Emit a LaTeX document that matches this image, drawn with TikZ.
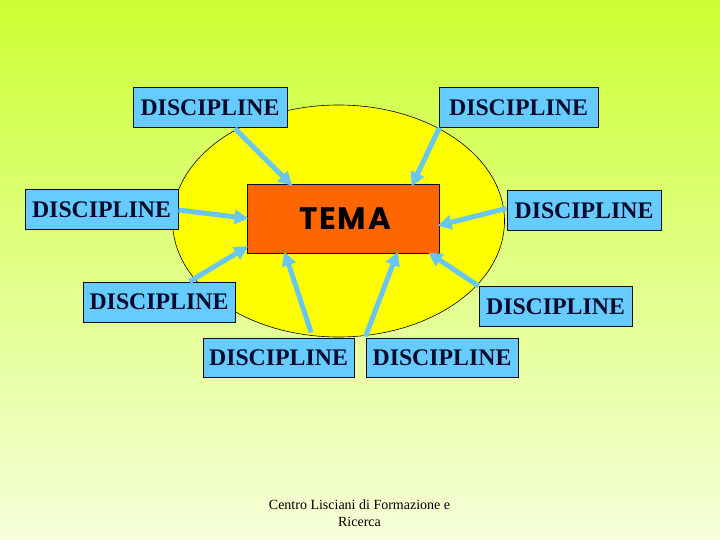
\documentclass[tikz,border=0pt]{standalone}
\usepackage{fontspec}
\setmainfont{Liberation Serif}
\newfontfamily\temafont[LetterSpace=6]{Poppins}
\usetikzlibrary{arrows.meta,calc}
\definecolor{bgtop}{RGB}{204,255,51}
\definecolor{bgbot}{RGB}{246,255,218}
\definecolor{boxblue}{RGB}{102,204,255}
\definecolor{arrblue}{RGB}{105,198,240}
\definecolor{txtnavy}{RGB}{10,10,45}
\definecolor{temaorange}{RGB}{255,102,0}
\definecolor{sunyellow}{RGB}{255,255,0}
\tikzset{
  discbox/.style={draw=txtnavy, line width=1pt, fill=boxblue, inner sep=0pt,
    minimum width=#1, minimum height=40pt, text=txtnavy,
    font=\fontsize{23.8}{26}\selectfont\bfseries},
  discbox/.default=153pt,
  temabox/.style={draw=txtnavy, line width=1pt, fill=temaorange, inner sep=0pt,
    minimum width=192pt, minimum height=68pt, text=black,
    font=\temafont\fontsize{31}{33}\selectfont\bfseries},
  feed/.style={draw=arrblue, line width=5pt, -{Triangle[length=14pt,width=14pt]}, shorten >=-2pt}
}
\begin{document}
\begin{tikzpicture}[x=1pt,y=-1pt]
\shade[top color=bgtop, bottom color=bgbot] (0,0) rectangle (720,540);
\useasboundingbox (0,0) rectangle (720,540);
\draw[fill=sunyellow, line width=0.6pt] (338.5,221) ellipse [x radius=166, y radius=116];
\node[temabox] (tema) at (343,219) {\hspace*{4pt}TEMA};
\node[discbox=154pt] (b1) at (210,108) {DISCIPLINE};
\node[discbox=159pt] (b2) at (518.5,108) {DISCIPLINE};
\node[discbox=153pt] (b3) at (101.5,210) {DISCIPLINE};
\node[discbox=154pt] (b4) at (584,210.5) {DISCIPLINE};
\node[discbox=152pt] (b5) at (159,302) {DISCIPLINE};
\node[discbox=153pt] (b6) at (555.5,306.5) {DISCIPLINE};
\node[discbox=151pt, minimum height=39pt] (b7) at (278.5,357.5) {DISCIPLINE};
\node[discbox=152pt, minimum height=39pt] (b8) at (442,357.5) {DISCIPLINE};
\draw[feed] ($(b1.south west)!0.66!(b1.south east)$) -- ($(tema.north west)!0.23!(tema.north east)$);
\draw[feed] ($(b2.south west)+(1,-1)$) -- ($(tema.north west)!0.86!(tema.north east)$);
\draw[feed] (b3.east) -- ($(tema.north west)!0.49!(tema.south west)$);
\draw[feed] ($(b4.north west)!0.45!(b4.south west)$) -- ($(tema.north east)!0.59!(tema.south east)$);
\draw[feed] (b6.north west) -- ($(tema.south west)!0.95!(tema.south east)$);
\draw[feed] ($(b5.north west)!0.70!(b5.north east)$) -- ($(tema.north west)!0.91!(tema.south west)$);
\draw[feed] ($(b7.north west)!0.715!(b7.north east)+(0,-5)$) -- ($(tema.south west)!0.20!(tema.south east)$);
\draw[feed] ($(b8.north west)+(0,-1)$) -- ($(tema.south west)!0.78!(tema.south east)$);
\node[align=center, font=\fontsize{14}{17}\selectfont, text=black] (foot) at (359.5,513) {Centro Lisciani di Formazione e\\Ricerca};
\end{tikzpicture}
\end{document}
